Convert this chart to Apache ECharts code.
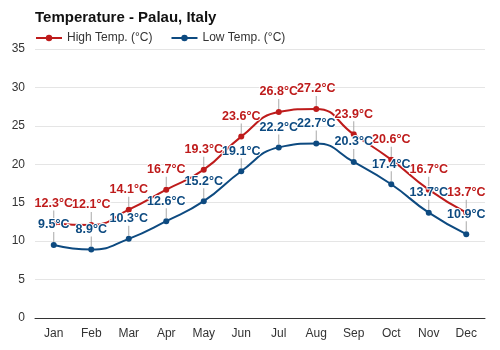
<!DOCTYPE html>
<html><head><meta charset="utf-8">
<script src="https://cdn.jsdelivr.net/npm/echarts@6/dist/echarts.min.js"></script>
<style>html,body{margin:0;padding:0;background:#fff}#c{width:500px;height:350px}</style>
</head><body><div id="c"></div>
<script>
const months = ['Jan','Feb','Mar','Apr','May','Jun','Jul','Aug','Sep','Oct','Nov','Dec'];
const highTemp = [12.3, 12.1, 14.1, 16.7, 19.3, 23.6, 26.8, 27.2, 23.9, 20.6, 16.7, 13.7];
const lowTemp = [9.5, 8.9, 10.3, 12.6, 15.2, 19.1, 22.2, 22.7, 20.3, 17.4, 13.7, 10.9];
const yTicks = [0, 5, 10, 15, 20, 25, 30, 35];

const RED = '#be1b1b', BLUE = '#0d4a80';
const FONT = 'Liberation Sans, Arial, sans-serif';
function mkLabel(color){
  return {
    show: true, position: 'top', distance: 0,
    formatter: p => '{t|' + p.value.toFixed(1) + '°C}\n{l| }',
    rich: {
      t: {color: color, fontWeight: 'bold', fontSize: 12.5, fontFamily: FONT,
          textBorderColor: '#fff', textBorderWidth: 2, lineHeight: 14, align: 'center'},
      l: {width: 1, height: 10, backgroundColor: '#a8a8a8', lineHeight: 10, align: 'center', fontSize: 1}
    }
  };
}
const chart = echarts.init(document.getElementById('c'), null, {renderer: 'canvas'});
chart.setOption({
  animation: false,
  title: {text: 'Temperature - Palau, Italy', left: 30, top: 5,
    textStyle: {fontSize: 15, fontWeight: 'bold', color: '#111', fontFamily: FONT}},
  legend: {left: 30, top: 27, itemWidth: 26, itemHeight: 8, itemGap: 18,
    textStyle: {fontSize: 12, color: '#333', fontFamily: FONT}},
  grid: {left: 35, right: 15, top: 49, bottom: 32},
  xAxis: {type: 'category', data: months, boundaryGap: true,
    axisLine: {lineStyle: {color: '#333', width: 1}}, axisTick: {show: false},
    axisLabel: {color: '#333', fontSize: 12, margin: 10, fontFamily: FONT}},
  yAxis: {type: 'value', min: yTicks[0], max: yTicks[yTicks.length-1], interval: 5,
    axisLine: {show: false}, axisTick: {show: false},
    splitLine: {lineStyle: {color: '#e5e5e5'}},
    axisLabel: {color: '#333', fontSize: 12, margin: 10, fontFamily: FONT}},
  series: [
    {name: 'High Temp. (°C)', type: 'line', data: highTemp, smooth: 0.5, symbol: 'circle', symbolSize: 6,
     lineStyle: {color: RED, width: 2}, itemStyle: {color: RED}, label: mkLabel(RED), z: 2},
    {name: 'Low Temp. (°C)', type: 'line', data: lowTemp, smooth: 0.5, symbol: 'circle', symbolSize: 6,
     lineStyle: {color: BLUE, width: 2}, itemStyle: {color: BLUE}, label: mkLabel(BLUE), z: 3}
  ]
});
</script></body></html>
